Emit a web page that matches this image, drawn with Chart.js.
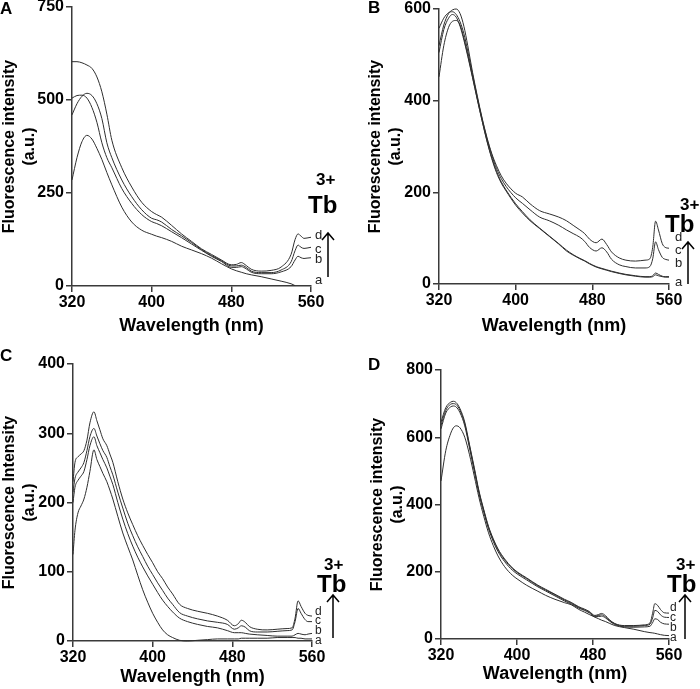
<!DOCTYPE html>
<html>
<head>
<meta charset="utf-8">
<script src="https://cdn.jsdelivr.net/npm/chart.js@4.4.1/dist/chart.umd.min.js"></script>
<style>
  html, body { margin: 0; padding: 0; background: #fff; }
  #wrap { position: relative; width: 700px; height: 689px; overflow: hidden; font-family: "Liberation Sans", Arial, sans-serif; }
  .panel { position: absolute; }
  .lbl { position: absolute; line-height: 1; white-space: nowrap; color: #000; }
</style>
</head>
<body>
<div id="wrap">
  <div class="panel" style="left:0;top:0;width:350px;height:345px"><canvas id="cA"></canvas></div>
  <div class="panel" style="left:350px;top:0;width:350px;height:345px"><canvas id="cB"></canvas></div>
  <div class="panel" style="left:0;top:345px;width:350px;height:344px"><canvas id="cC"></canvas></div>
  <div class="panel" style="left:350px;top:345px;width:350px;height:344px"><canvas id="cD"></canvas></div>
</div>
<script>
// wavelengths (nm) and intensities
const nmA = [320,325,330,335,340,345,350,355,360,370,380,390,400,405,410,420,430,440,450,460,470,480,485,490,495,500,510,520,530,540,544,547,550,553,556,560];
const A_a = [285,345,388,405,395,370,340,305,272,212,172,150,139,134,130,120,107,97,87,75,60,46,41,37,33,30,25,19,13,6,1,null,null,null,null,null];
const A_b = [505,512,513,505,480,440,385,345,318,262,222,192,173,168,162,146,130,113,96,80,66,50,50,52,46,37,33,33,38,52,70,80,76,74,75,76];
const A_c = [460,490,510,518,512,490,450,385,345,285,240,205,182,178,172,152,135,117,98,82,68,54,54,56,50,40,36,36,43,65,95,110,104,101,102,104];
const A_d = [603,603,600,594,585,562,522,462,392,318,266,225,200,192,185,163,140,120,100,85,70,57,58,63,55,45,40,42,51,85,125,140,134,128,129,131];

const nmB = [320,325,330,334,338,342,346,350,355,360,365,370,375,380,385,390,400,407,415,425,435,445,453,460,467,472,477,484,490,495,500,508,515,525,535,540,543,546,549,553,556,560];
const B_a = [452,520,560,573,575,565,536,500,452,403,356,312,274,243,220,203,172,155,138,121,104,87,72,63,55,50,44,37,33,30,27,23,20,17,15,15,16,20,18,16,15,15];
const B_b = [505,555,580,588,582,562,532,497,450,402,356,313,276,246,223,205,175,158,140,122,105,88,74,64,56,51,45,38,34,31,28,24,21,18,16,16,18,24,21,17,16,16];
const B_c = [558,580,592,594,588,572,546,508,457,407,360,318,282,252,230,213,188,176,162,146,138,128,118,110,102,93,80,72,79,70,54,42,38,35,35,38,55,92,75,58,54,52];
const B_d = [520,565,590,598,600,590,562,520,462,410,362,320,285,258,236,220,198,190,175,160,153,146,138,128,118,110,98,90,98,86,70,57,52,50,52,55,80,137,118,88,80,78];

const nmC = [320,322,325,328,331,334,337,341,344,347,350,354,357,360,365,370,375,380,385,390,395,400,405,410,415,420,427,435,445,455,465,475,482,486,489,493,497,505,515,525,535,540,543,546,549,553,556,560];
const C_a = [125,160,185,195,205,222,245,276,262,252,242,230,218,205,180,156,136,117,95,74,56,40,27,16,9,5,1,0,1,2,3,3,3,3,4,4,4,4,4,5,5,5,5,4,4,3,3,3];
const C_b = [200,222,232,238,245,262,282,295,282,272,262,250,238,226,200,176,155,137,121,107,94,82,70,59,50,42,33,28,24,21,19,15,12,12,12,11,10,9,8,7,7,7,9,11,10,9,10,11];
const C_c = [215,235,244,250,258,275,295,307,296,285,275,265,252,240,215,192,170,152,136,122,108,96,84,73,62,53,41,36,32,29,27,24,17,19,22,20,15,13,13,14,15,16,28,47,40,31,28,28];
const C_d = [230,258,266,270,275,290,315,331,318,305,292,282,270,258,230,205,185,168,152,138,125,113,100,90,78,68,53,47,43,40,36,30,22,25,30,27,21,17,16,17,18,19,33,58,50,40,37,36];

const nmD = [320,325,330,333,336,340,345,350,355,360,365,370,375,380,387,395,401,410,422,430,440,450,457,465,471,476,482,486,489,493,497,503,513,523,534,540,543,545,548,551,555,560];
const D_a = [470,560,610,628,634,628,600,548,485,420,365,316,278,247,215,190,177,160,142,130,118,108,102,88,80,73,65,60,56,52,47,40,34,29,22,19,18,17,15,13,11,10];
const D_b = [625,672,690,693,690,673,634,568,500,432,377,328,290,260,230,205,192,176,155,143,128,113,104,92,85,78,66,67,68,63,54,43,36,35,36,38,50,60,58,50,45,44];
const D_c = [635,680,698,700,697,680,640,574,506,437,382,332,295,265,235,210,196,180,158,146,131,116,107,94,87,80,68,70,72,66,56,45,38,38,40,44,65,85,82,72,65,64];
const D_d = [645,688,704,707,703,685,645,578,510,440,385,335,298,268,238,212,198,182,160,148,133,118,109,96,89,82,70,73,76,70,58,46,40,40,42,48,80,105,100,88,78,77];

const xTicks = [320, 400, 480, 560];
const yTicksA = [0, 250, 500, 750];
const yTicksB = [0, 200, 400, 600];
const yTicksC = [0, 100, 200, 300, 400];
const yTicksD = [0, 200, 400, 600, 800];

Chart.defaults.font.family = '"Liberation Sans", Arial, sans-serif';
Chart.defaults.color = '#000';

const AXIS = '#3a3a3a';
const LINE = '#2e2e2e';

// open arrow next to the Tb3+ label (panel-local pixels)
const arrowPlugin = {
  id: 'tbArrow',
  afterDraw(chart, args, o) {
    const ctx = chart.ctx;
    ctx.save();
    ctx.strokeStyle = '#000';
    ctx.lineWidth = 1.5;
    ctx.beginPath();
    ctx.moveTo(o.x, o.y0);
    ctx.lineTo(o.x, o.y1);
    ctx.moveTo(o.x - 6, o.y1 + 7);
    ctx.lineTo(o.x, o.y1);
    ctx.lineTo(o.x + 6, o.y1 + 7);
    ctx.stroke();
    ctx.restore();
  }
};

function toPts(nm, vals) {
  return nm.map((x, i) => ({ x, y: vals[i] }));
}

function makePanel(p) {
  const datasets = p.series.map((s) => ({
    data: toPts(p.nm, s),
    borderColor: LINE,
    borderWidth: 1,
    pointRadius: 0,
    fill: false,
    cubicInterpolationMode: 'monotone',
    clip: false
  }));
  const tickSet = p.yTicks;
  new Chart(document.getElementById(p.id), {
    type: 'line',
    data: { datasets },
    plugins: [arrowPlugin],
    options: {
      responsive: true,
      maintainAspectRatio: false,
      animation: false,
      layout: { padding: p.pad },
      plugins: {
        legend: { display: false },
        tooltip: { enabled: false },
        tbArrow: p.arrow
      },
      scales: {
        x: {
          type: 'linear',
          min: xTicks[0],
          max: xTicks[xTicks.length - 1],
          afterBuildTicks: (s) => { s.ticks = xTicks.map((v) => ({ value: v })); },
          afterFit: (s) => { s.height = p.xH; s.paddingLeft = 0; s.paddingRight = 0; },
          ticks: { font: { size: 16, weight: 'bold' }, padding: 1, maxRotation: 0, color: '#000' },
          grid: { drawOnChartArea: false, tickLength: 6, color: AXIS, lineWidth: 1.5 },
          border: { color: AXIS, width: 1.5 },
          title: { display: true, text: 'Wavelength (nm)', font: { size: 18, weight: 'bold' }, padding: 0, color: '#000' }
        },
        y: {
          min: tickSet[0],
          max: tickSet[tickSet.length - 1],
          afterBuildTicks: (s) => { s.ticks = tickSet.map((v) => ({ value: v })); },
          afterFit: (s) => { s.width = p.yW; s.paddingTop = 0; s.paddingBottom = 0; },
          ticks: { font: { size: 16, weight: 'bold' }, padding: 2, color: '#000' },
          grid: { drawOnChartArea: false, tickLength: 6, color: AXIS, lineWidth: 1.5 },
          border: { color: AXIS, width: 1.5 },
          title: { display: true, text: p.yTitle, font: { size: 16, weight: 'bold', lineHeight: 1.25 }, padding: 0, color: '#000' }
        }
      }
    }
  });
}

makePanel({ id: 'cA', nm: nmA, series: [A_a, A_b, A_c, A_d], yTicks: yTicksA,
  yTitle: ['Fluorescence intensity', '(a.u.)'],
  pad: { left: 0, right: 39, top: 7, bottom: 8 }, yW: 72, xH: 51,
  arrow: { x: 328, y0: 277, y1: 233 } });
makePanel({ id: 'cB', nm: nmB, series: [B_a, B_b, B_c, B_d], yTicks: yTicksB,
  yTitle: ['Fluorescence intensity', '(a.u.)'],
  pad: { left: 16, right: 31, top: 9, bottom: 8 }, yW: 73, xH: 53,
  arrow: { x: 338, y0: 284, y1: 242 } });
makePanel({ id: 'cC', nm: nmC, series: [C_a, C_b, C_c, C_d], yTicks: yTicksC,
  yTitle: ['Fluorescence Intensity', '(a.u.)'],
  pad: { left: 0, right: 38, top: 19, bottom: 1 }, yW: 73, xH: 47,
  arrow: { x: 333, y0: 293, y1: 250 } });
makePanel({ id: 'cD', nm: nmD, series: [D_a, D_b, D_c, D_d], yTicks: yTicksD,
  yTitle: ['Fluorescence intensity', '(a.u.)'],
  pad: { left: 18, right: 31, top: 25, bottom: 4 }, yW: 73, xH: 46,
  arrow: { x: 335, y0: 294, y1: 250 } });

// text labels placed by baseline
const wrap = document.getElementById('wrap');
function addLabel(text, x, baseline, size, weight, color) {
  const d = document.createElement('div');
  d.className = 'lbl';
  d.textContent = text;
  d.style.left = x + 'px';
  d.style.top = (baseline - 0.8465 * size) + 'px';
  d.style.fontSize = size + 'px';
  d.style.fontWeight = weight || 'normal';
  if (color) d.style.color = color;
  wrap.appendChild(d);
}

addLabel('A', 0, 14, 17, 'bold');
addLabel('B', 368, 13, 17, 'bold');
addLabel('C', 0, 361, 17, 'bold');
addLabel('D', 368, 370, 17, 'bold');

const tbSpots = [
  { tb: [308, 213], sup: [316, 185] },
  { tb: [665, 232], sup: [680, 210] },
  { tb: [317, 592], sup: [324, 570] },
  { tb: [667, 592], sup: [676, 570] }
];
tbSpots.forEach((t) => {
  addLabel('Tb', t.tb[0], t.tb[1], 24, 'bold');
  addLabel('3+', t.sup[0], t.sup[1], 17, 'bold');
});

const curveNames = ['d', 'c', 'b', 'a'];
const nameSpots = [
  { x: 315, ys: [239, 253, 263, 284], size: 13 },
  { x: 675, ys: [241, 254, 267, 286], size: 13 },
  { x: 315, ys: [615, 624, 634, 644], size: 12 },
  { x: 670, ys: [611, 621, 631, 641], size: 12 }
];
nameSpots.forEach((s) => {
  curveNames.forEach((n, i) => addLabel(n, s.x, s.ys[i], s.size, 'normal', '#222'));
});
</script>
</body>
</html>
